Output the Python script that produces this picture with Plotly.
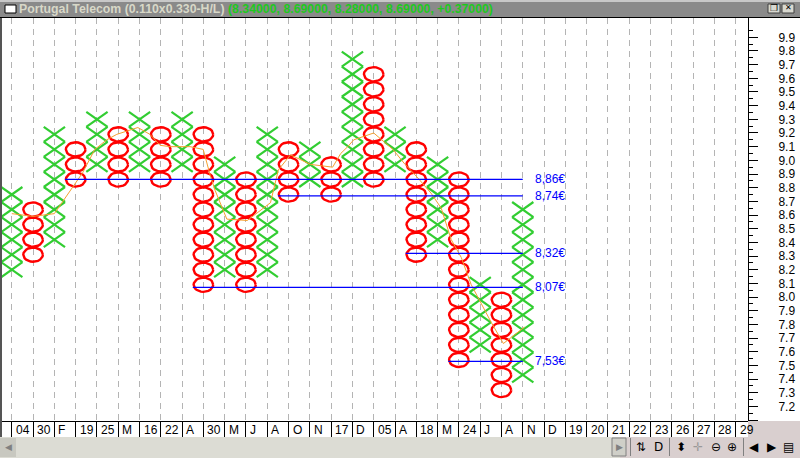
import numpy as np
import plotly.graph_objects as go

# ---- data -------------------------------------------------------------
date_labels = ["04","30","F","19","25","M","16","22","A","30","M","J","A","O","N","17","D","05","A",
               "18","M","24","J","A","N","D","19","20","21","22","23","26","27","28","29"]
box_size = 0.11
base_level = 8.86
# point & figure columns, expressed as box counts from base_level
col_kind = ["X","O","X","O","X","O","X","O","X","O","X","O","X","O","X","O","X","O","X","O","X","O","X","O","X"]
col_top  = [-1,-2, 3, 2, 4, 3, 4, 3, 4, 3, 1, 0, 3, 2, 2, 1, 8, 7, 3, 2, 1, 0,-7,-8,-2]
col_bot  = [-6,-5,-4, 0, 1, 0, 1, 0, 1,-7,-6,-7,-6,-1, 0,-1, 0, 0, 1,-5,-4,-12,-11,-14,-13]
# support / resistance lines
level_values = [8.86, 8.74, 8.32, 8.07, 7.53]
level_start  = [2.5, 12.5, 18.5, 8.5, 20.5]
level_end    = 24.0
# thin orange average
avg_col = [0,1,2,3.33,3.9,4.46,4.93,5.92,6.49,6.96,7.43,8.37,8.99,9.32,9.55,10.1,11.06,12.15,12.52,13.09,
           14.03,15.07,15.45,15.78,16.06,17.0,17.9,18.42,19.08,19.69,20.17,20.64,21.11,21.58,22.5,23.09,24.08]
avg_val = [8.61,8.59,8.61,8.91,9.08,9.15,9.19,9.24,9.19,9.11,9.10,9.10,9.08,8.89,8.78,8.57,8.56,8.69,8.93,9.04,
           8.97,8.95,9.05,9.10,9.15,9.20,9.08,8.98,8.87,8.76,8.65,8.42,8.29,8.09,7.82,7.66,7.78]
price_ticks = [round(7.1 + 0.1*i, 1) for i in range(29)]
title_main = "Portugal Telecom (0.110x0.330-H/L)"
title_ohlc = "(8.34000, 8.69000, 8.28000, 8.69000, +0.37000)"

# ---- geometry of the window -------------------------------------------
W, H = 800, 458
L, R, T, B = 2, 748, 18, 421
COL_X0, COL_W = 11.8, 21.29
FONT = "Liberation Sans"
def px(x): return (x - L) / (R - L)
def py(y): return (B - y) / (B - T)

# ---- marks ------------------------------------------------------------
xs_x, xs_y, os_x, os_y = [], [], [], []
theta = np.linspace(0, 2*np.pi, 25)
for c, (k, top, bot) in enumerate(zip(col_kind, col_top, col_bot)):
    for n in range(bot, top + 1):
        p = base_level + n * box_size
        if k == "X":
            hw, hh = 0.5, box_size / 2
            xs_x += [c - hw, c + hw, None, c - hw, c + hw, None]
            xs_y += [p - hh, p + hh, None, p + hh, p - hh, None]
        else:
            os_x += list(c + 0.46 * np.cos(theta)) + [None]
            os_y += list(p + 0.052 * np.sin(theta)) + [None]

fig = go.Figure()
fig.add_trace(go.Scatter(x=xs_x, y=xs_y, mode="lines", line=dict(color="#32cd32", width=2.2), hoverinfo="skip", showlegend=False))
fig.add_trace(go.Scatter(x=os_x, y=os_y, mode="lines", line=dict(color="#ff0000", width=2.4), hoverinfo="skip", showlegend=False))
fig.add_trace(go.Scatter(x=avg_col, y=avg_val, mode="lines", line=dict(color="#f5a030", width=1), hoverinfo="skip", showlegend=False))
for v, s in zip(level_values, level_start):
    fig.add_trace(go.Scatter(x=[s, level_end], y=[v, v], mode="lines", line=dict(color="#0000ff", width=1.2), hoverinfo="skip", showlegend=False))

annotations = []
for v in level_values:
    annotations.append(dict(x=level_end, y=v, xref="x", yref="y", xanchor="left", yanchor="middle", xshift=10, showarrow=False,
                            text=f"{v:.2f}".replace(".", ",") + "€", font=dict(family=FONT, size=12, color="#0000ff")))
for i, lab in enumerate(date_labels):
    annotations.append(dict(x=i, y=py(430), xref="x", yref="paper", xanchor="left", yanchor="middle", xshift=2, showarrow=False,
                            text=lab, font=dict(family=FONT, size=12, color="#000000")))
annotations.append(dict(x=px(17), y=py(9), xref="paper", yref="paper", xanchor="left", yanchor="middle", showarrow=False,
                        text="<b>" + title_main + "</b>", font=dict(family=FONT, size=12.3, color="#d8d8c8")))
annotations.append(dict(x=px(226), y=py(9), xref="paper", yref="paper", xanchor="left", yanchor="middle", showarrow=False,
                        text="<b>" + title_ohlc + "</b>", font=dict(family=FONT, size=12.3, color="#1ec81e")))

# toolbar glyphs
toolbar = [(619,"▶","#808080",9),(8,"◀","#808080",9),(641,"⇅","#000000",12),(658,"D","#000000",12),
           (681,"⬍","#000000",12),(698,"✛","#999999",12),(716,"⊖","#000000",12),(732,"⊕","#000000",12),
           (754,"◀","#000000",12),(772,"▶","#000000",12),(788,"▤","#000000",12)]
for x, g, c, s in toolbar:
    annotations.append(dict(x=px(x), y=py(447), xref="paper", yref="paper", xanchor="center", yanchor="middle", showarrow=False,
                            text=g, font=dict(family="DejaVu Sans", size=s, color=c)))
annotations.append(dict(x=px(774), y=py(8), xref="paper", yref="paper", xanchor="center", yanchor="middle", showarrow=False,
                        text="❐", font=dict(family="DejaVu Sans", size=9, color="#000000")))
annotations.append(dict(x=px(788), y=py(8), xref="paper", yref="paper", xanchor="center", yanchor="middle", showarrow=False,
                        text="✕", font=dict(family="DejaVu Sans", size=8, color="#000000")))

def rect(x0, y0, x1, y1, fill, line=None, lw=0):
    return dict(type="rect", xref="paper", yref="paper", x0=px(x0), x1=px(x1), y0=py(y0), y1=py(y1),
                fillcolor=fill, line=dict(color=line or fill, width=lw), layer="above")

shapes = [
    rect(0, 0, 800, 2, "#c8c8c8"),
    rect(0, 2, 800, 17, "#8a8a8a"),
    rect(0, 17, 800, 18, "#000000"),
    rect(0, 18, 2, 437, "#555555"),
    rect(5, 5, 16, 13, "#ffffff", "#000000", 1),
    rect(768, 4, 780, 13, "#d8d8d0", "#404040", 1),
    rect(782, 4, 794, 13, "#d8d8d0", "#404040", 1),
    rect(748, 421, 800, 437, "#d9cfcf"),
    rect(0, 437, 620, 458, "#dcdcd4"),
    rect(620, 437, 800, 458, "#d9cfcf"),
    rect(0, 438, 16, 457, "#c8c8c0"),
    rect(612, 438, 626, 456, "#cfcfc8", "#808080", 1),
    rect(630, 438, 631, 456, "#808080"),
    rect(669, 438, 670, 456, "#808080"),
    rect(743, 438, 744, 456, "#808080"),
]

fig.update_layout(
    width=W, height=H, margin=dict(l=L, r=W-R, t=T, b=H-B, pad=0, autoexpand=False),
    paper_bgcolor="#ffffff", plot_bgcolor="#ffffff", showlegend=False,
    font=dict(family=FONT, size=12, color="#000000"),
    xaxis=dict(range=[(L-COL_X0)/COL_W, (R-COL_X0)/COL_W], tickmode="array", tickvals=list(range(len(date_labels))),
               showticklabels=False, ticks="outside", ticklen=15, tickcolor="#000000", tickwidth=1,
               showgrid=True, gridcolor="#b4b4b4", griddash="6px,5px", gridwidth=1,
               showline=True, linecolor="#000000", linewidth=1, zeroline=False, fixedrange=True),
    yaxis=dict(side="right", range=[9.9-(B-37.3)/136.7, 9.9+(37.3-T)/136.7], tickmode="array", tickvals=price_ticks,
               ticktext=["" if t == 7.1 else f"{t:.1f}" for t in price_ticks],
               ticks="outside", ticklen=9, tickcolor="#000000", tickwidth=1, ticklabelstandoff=18,
               tickfont=dict(family=FONT, size=12, color="#000000"),
               minor=dict(tickmode="array", tickvals=[round(t+0.05, 2) for t in price_ticks], ticks="outside", ticklen=4, tickcolor="#000000", showgrid=False),
               showgrid=False, showline=True, linecolor="#000000", linewidth=1, zeroline=False, fixedrange=True),
    shapes=shapes, annotations=annotations,
)
fig.write_html("out.html", config={"displayModeBar": False},
               post_script="document.body.style.margin='0';document.body.style.overflow='hidden';")
